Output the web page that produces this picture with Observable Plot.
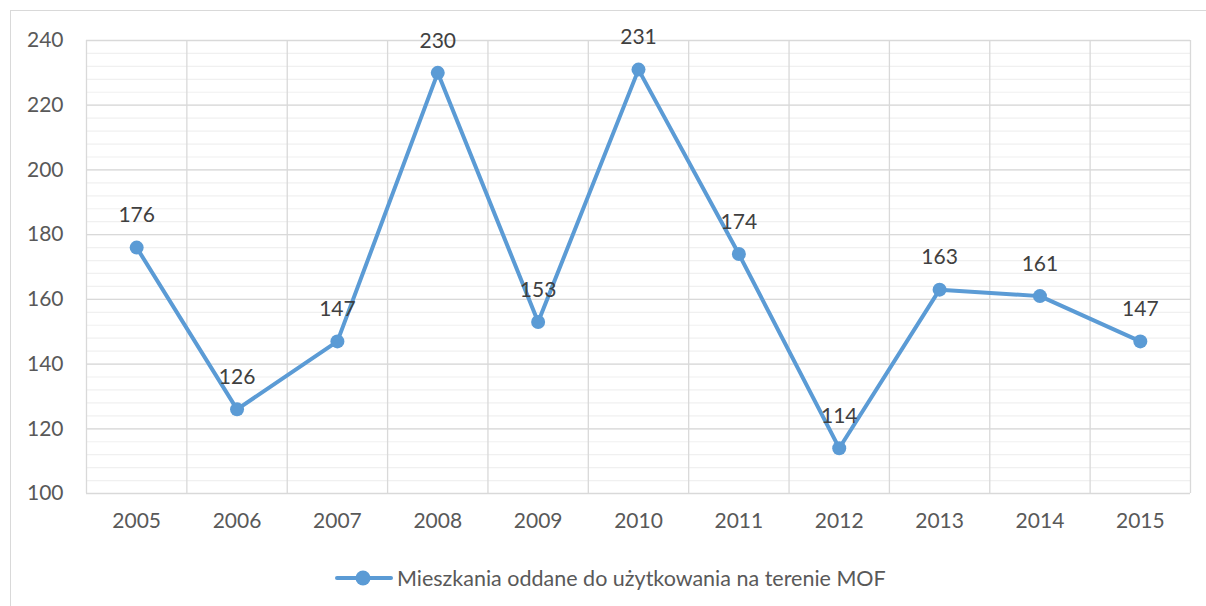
<!DOCTYPE html>
<html><head><meta charset="utf-8">
<script src="https://cdn.jsdelivr.net/npm/d3@7"></script>
<script src="https://cdn.jsdelivr.net/npm/@observablehq/plot@0.6"></script>
<style>
body{margin:0;background:#fff;font-family:Lato,"Open Sans",sans-serif;}
#wrap{position:relative;width:1206px;height:606px;overflow:hidden;}
#frame{position:absolute;left:10px;top:10px;width:1210px;height:610px;border:1.5px solid #d9d9d9;pointer-events:none;}
#legend{position:absolute;left:335px;top:560px;height:36px;display:flex;align-items:center;font-size:21.5px;color:#595959;white-space:nowrap;}
#legend svg{margin-right:4px;}
</style></head>
<body><div id="wrap"><div id="frame"></div><div id="chart"></div>
<div id="legend"><svg width="58" height="18"><line x1="2" y1="9" x2="56" y2="9" stroke="#5b9bd5" stroke-width="4" stroke-linecap="round"/><circle cx="28" cy="9" r="7.5" fill="#5b9bd5"/></svg><span id="legtext"></span></div>
</div>
<script>
const years = [2005,2006,2007,2008,2009,2010,2011,2012,2013,2014,2015];
const values = [176,126,147,230,153,231,174,114,163,161,147];
const yTicks = [100,120,140,160,180,200,220,240];
const seriesName = "Mieszkania oddane do użytkowania na terenie MOF";
document.getElementById("legtext").textContent = seriesName;

const data = years.map((y,i)=>({year:y, value:values[i]}));
const minor = d3.range(100, 241, 4);
const bandEdges = years.map(y=>y-0.5).concat([years[years.length-1]+0.5]);

const chart = Plot.plot({
  width:1206, height:560,
  marginLeft:86, marginRight:16, marginTop:40, marginBottom:67,
  style:{fontFamily:"Lato, 'Open Sans', sans-serif", fontSize:"21px", color:"#595959", background:"transparent"},
  x:{domain:[2004.5,2015.5], ticks:years, tickFormat:d=>String(d), tickSize:0, tickPadding:20, label:null},
  y:{domain:[100,240], ticks:yTicks, tickSize:0, tickPadding:23, label:null},
  marks:[
    Plot.ruleY(minor,{stroke:"#f0f0f0", strokeWidth:1.2}),
    Plot.ruleY(yTicks,{stroke:"#d9d9d9", strokeWidth:1.3}),
    Plot.ruleX(bandEdges,{stroke:"#d9d9d9", strokeWidth:1.3}),
    Plot.line(data,{x:"year", y:"value", stroke:"#5b9bd5", strokeWidth:4}),
    Plot.dot(data,{x:"year", y:"value", r:7, fill:"#5b9bd5"}),
    Plot.text(data,{x:"year", y:"value", text:d=>String(d.value), dy:-32, fill:"#404040", fontSize:21})
  ]
});
document.getElementById("chart").appendChild(chart);
</script></body></html>
